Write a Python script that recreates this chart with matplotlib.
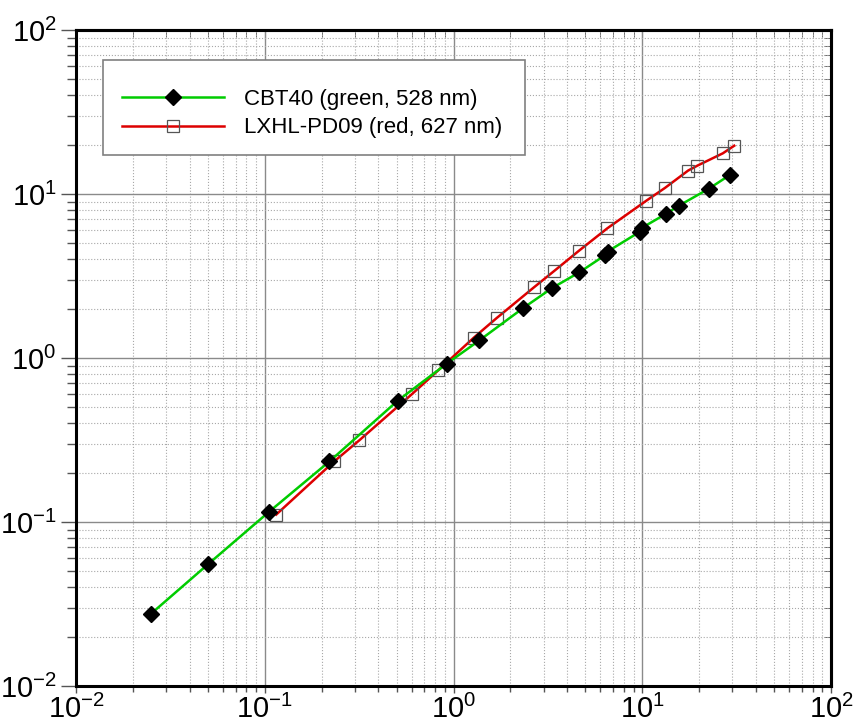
import matplotlib
matplotlib.use('Agg')
import matplotlib.pyplot as plt
from matplotlib.ticker import LogLocator, NullFormatter
from matplotlib.patches import Rectangle

plt.rcParams['font.family'] = ['Liberation Sans', 'DejaVu Sans']
plt.rcParams['mathtext.fontset'] = 'custom'
plt.rcParams['mathtext.rm'] = 'Liberation Sans'

# CBT40 (green, 528 nm)
green_x = [0.0249, 0.050, 0.105, 0.220, 0.506, 0.920, 1.37, 2.33, 3.31, 4.64,
           6.38, 6.55, 9.67, 9.91, 13.4, 15.7, 22.6, 29.2]
green_y = [0.0275, 0.0552, 0.115, 0.234, 0.549, 0.923, 1.28, 2.01, 2.66, 3.33,
           4.25, 4.46, 5.87, 6.20, 7.59, 8.51, 10.8, 13.1]

# LXHL-PD09 (red, 627 nm)
red_x = [0.115, 0.233, 0.317, 0.601, 0.830, 1.28, 1.69, 2.67, 3.41, 4.62,
         6.53, 10.5, 13.2, 17.5, 19.6, 26.7, 30.7]
red_y = [0.111, 0.234, 0.315, 0.601, 0.841, 1.33, 1.75, 2.70, 3.39, 4.51,
         6.18, 9.10, 10.9, 13.9, 14.9, 17.7, 19.7]

fig = plt.figure(figsize=(8.57, 7.25), dpi=100)
ax = fig.add_axes([0.0887, 0.0538, 0.881, 0.9048])

ax.plot(green_x, green_y, color='#00cc00', lw=1.8, marker='D', ms=8,
        mfc='black', mec='black', label='CBT40 (green, 528 nm)', zorder=4)
ax.plot(red_x, red_y, color='#dd0000', lw=1.8, marker='s', ms=8,
        mfc='none', mec='#555555', mew=0.9, label='LXHL-PD09 (red, 627 nm)', zorder=3)

ax.set_xscale('log')
ax.set_yscale('log')
ax.set_xlim(1e-2, 1e2)
ax.set_ylim(1e-2, 1e2)

for axis in [ax.xaxis, ax.yaxis]:
    axis.set_major_locator(LogLocator(base=10, numticks=10))
    axis.set_minor_locator(LogLocator(base=10, subs=range(2, 10), numticks=20))
    axis.set_minor_formatter(NullFormatter())

ax.grid(which='major', color='#8a8a8a', lw=1.0, ls='-')
ax.grid(which='minor', color='#a8a8a8', lw=0.8, ls=':')
ax.set_axisbelow(True)

ax.tick_params(which='major', direction='out', width=1.0, color='#555555', labelsize=21)
ax.tick_params(axis='y', which='major', length=11, pad=3)
ax.tick_params(axis='y', which='minor', length=6.5, width=1.0, color='#555555')
ax.tick_params(axis='x', which='major', length=5, pad=1)
ax.tick_params(axis='x', which='minor', length=4, width=1.0, color='#555555')

for s in ax.spines.values():
    s.set_linewidth(2.2)
    s.set_color('black')

top = ax.secondary_xaxis('top')
top.tick_params(which='both', direction='in', labeltop=False, color='#555555')
top.tick_params(which='major', length=6)
top.tick_params(which='minor', length=5)
top.xaxis.set_minor_formatter(NullFormatter())
top.spines['top'].set_linewidth(2.2)

right = ax.secondary_yaxis('right')
right.tick_params(which='both', direction='in', labelright=False, color='#555555')
right.tick_params(which='major', length=6)
right.tick_params(which='minor', length=5)
right.yaxis.set_minor_formatter(NullFormatter())
right.spines['right'].set_linewidth(2.2)

# legend box drawn separately so its padding can differ from the entries
box = Rectangle((0.0358, 0.8095), 0.5589, 0.1448, transform=ax.transAxes,
                facecolor='white', edgecolor='#808080', lw=1.2, zorder=5)
ax.add_patch(box)
leg = ax.legend(loc='center left', bbox_to_anchor=(0.0609, 0.8727), fontsize=16,
                frameon=False, handlelength=4.6, handletextpad=0.9, borderpad=0,
                labelspacing=0.35, borderaxespad=0)
leg.set_zorder(6)

fig.savefig('out.png', dpi=100)
